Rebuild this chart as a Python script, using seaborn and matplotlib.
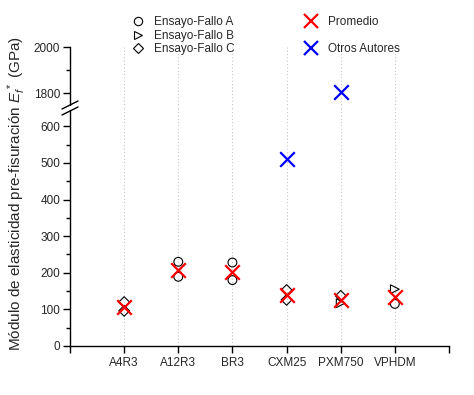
import numpy as np
import pandas as pd
import matplotlib
matplotlib.use("Agg")
import matplotlib.pyplot as plt
from matplotlib.lines import Line2D
import seaborn as sns

categories = ["A4R3", "A12R3", "BR3", "CXM25", "PXM750", "VPHDM"]

fallo_a_cat = ["A12R3", "A12R3", "BR3", "BR3", "VPHDM"]
fallo_a_val = [230, 189, 228, 180, 115]
fallo_b_cat = ["PXM750", "VPHDM"]
fallo_b_val = [117, 155]
fallo_c_cat = ["A4R3", "A4R3", "CXM25", "CXM25", "PXM750"]
fallo_c_val = [120, 96, 153, 126, 137]
promedio_val = [107, 208, 203, 139, 126, 133]
otros_cat = ["CXM25", "PXM750"]
otros_val = [510, 1805]

sns.set_theme(style="white")
plt.rcParams["font.family"] = ["Liberation Sans", "DejaVu Sans"]
plt.rcParams["mathtext.fontset"] = "custom"
plt.rcParams["mathtext.it"] = "Liberation Sans:italic"
plt.rcParams["mathtext.rm"] = "Liberation Sans"

pos = {c: i + 1 for i, c in enumerate(categories)}

fig = plt.figure(figsize=(4.74, 3.95), dpi=100)
W, H = 474, 395
left, right = 70, 449
y_top, y_brk, y_bot = 47, 108, 346
ax_lo = fig.add_axes([left / W, (H - y_bot) / H, (right - left) / W, (y_bot - y_brk) / H])
ax_hi = fig.add_axes([left / W, (H - y_brk) / H, (right - left) / W, (y_brk - y_top) / H])

open_kw = dict(facecolor="none", edgecolor="black", linewidth=0.8, s=40, zorder=3)
x_kw = dict(s=110, linewidth=1.6, zorder=4)

for ax in (ax_lo, ax_hi):
    sns.scatterplot(x=[pos[c] for c in fallo_a_cat], y=fallo_a_val, marker="o", ax=ax, **open_kw)
    sns.scatterplot(x=[pos[c] for c in fallo_b_cat], y=fallo_b_val, marker=">", ax=ax, **open_kw)
    sns.scatterplot(x=[pos[c] for c in fallo_c_cat], y=fallo_c_val, marker="D", ax=ax,
                    **{**open_kw, "s": 30})
    sns.scatterplot(x=[pos[c] for c in categories], y=promedio_val, marker="x", color="#ff0000", ax=ax, **x_kw)
    sns.scatterplot(x=[pos[c] for c in otros_cat], y=otros_val, marker="x", color="#0000ff", ax=ax, **x_kw)
    ax.set_xlim(0, 7)
    for i in range(1, 7):
        ax.axvline(i, color="#c8c8c8", linestyle=(0, (1, 2)), linewidth=0.8, zorder=0)
    for s in ("top", "right"):
        ax.spines[s].set_visible(False)
    ax.spines["left"].set_color("black")
    ax.spines["left"].set_linewidth(1.0)
    ax.tick_params(axis="y", which="major", direction="out", length=5, width=1, color="black",
                   left=True, labelsize=8.5, pad=2)
    ax.tick_params(axis="y", which="minor", direction="out", length=3, width=1, color="black", left=True)
    ax.set_xlabel("")
    ax.set_ylabel("")

ax_lo.set_ylim(0, 650)
ax_lo.set_yticks([0, 100, 200, 300, 400, 500, 600])
ax_lo.set_yticks([50, 150, 250, 350, 450, 550], minor=True)
ax_lo.spines["bottom"].set_color("black")
ax_lo.spines["bottom"].set_linewidth(1.0)
ax_lo.set_xticks(range(0, 8))
ax_lo.set_xticklabels([""] + categories + [""])
ax_lo.tick_params(axis="x", direction="out", length=5, width=1, color="black", bottom=True,
                  labelsize=8.5, pad=3)

ax_hi.set_ylim(1735, 2000)
ax_hi.set_yticks([1800, 2000])
ax_hi.set_yticks([1900], minor=True)
ax_hi.spines["bottom"].set_visible(False)
ax_hi.set_xticks([])

# break marks
for dy in (-3, 3):
    fig.add_artist(Line2D([(left - 8) / W, (left + 8) / W],
                          [(H - y_brk - 4 + dy) / H, (H - y_brk + 4 + dy) / H],
                          color="black", linewidth=1.0))
fig.add_artist(plt.Rectangle(((left - 2) / W, (H - y_brk - 2) / H), 4 / W, 4 / H,
                             facecolor="white", edgecolor="none", transform=fig.transFigure))

fig.text(17 / W, (H - 193) / H,
         "Módulo de elasticidad pre-fisuración $E_f^{\\,*}$ (GPa)",
         rotation=90, va="center", ha="center", fontsize=11)

handles = [
    Line2D([], [], marker="o", linestyle="none", markerfacecolor="none", markeredgecolor="black",
           markersize=6, markeredgewidth=0.8),
    Line2D([], [], marker=">", linestyle="none", markerfacecolor="none", markeredgecolor="black",
           markersize=6, markeredgewidth=0.8),
    Line2D([], [], marker="D", linestyle="none", markerfacecolor="none", markeredgecolor="black",
           markersize=5, markeredgewidth=0.8),
    Line2D([], [], marker="x", linestyle="none", color="#ff0000", markersize=10, markeredgewidth=1.6),
    Line2D([], [], linestyle="none"),
    Line2D([], [], marker="x", linestyle="none", color="#0000ff", markersize=10, markeredgewidth=1.6),
]
labels = ["Ensayo-Fallo A", "Ensayo-Fallo B", "Ensayo-Fallo C", "Promedio", "", "Otros Autores"]
fig.legend(handles, labels, ncol=2, loc="upper left", bbox_to_anchor=(126 / W, 1 - 10 / H),
           frameon=False, fontsize=8.5, handlelength=1.0, handletextpad=0.9,
           columnspacing=5.95, labelspacing=0.15, borderpad=0)

fig.savefig("out.png", dpi=100)
